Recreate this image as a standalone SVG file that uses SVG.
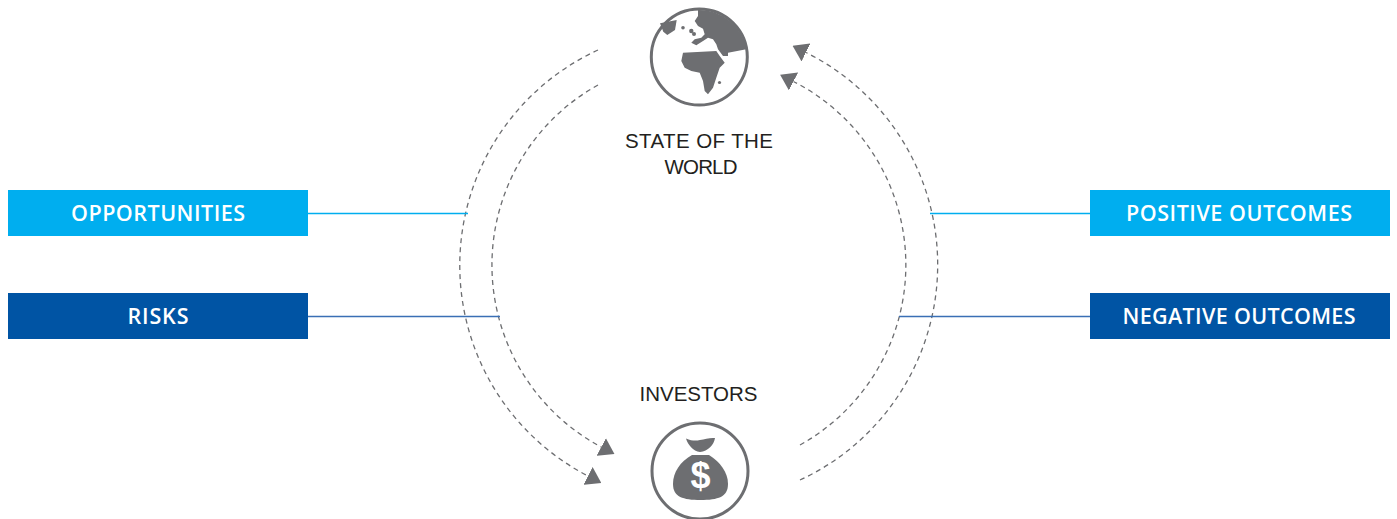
<svg xmlns="http://www.w3.org/2000/svg" width="1397" height="519" viewBox="0 0 1397 519">
<style>
.light{fill:#00aeef}
.dark{fill:#0054a4}
.btxt{font-family:"Open Sans","Liberation Sans",Arial,sans-serif;font-size:21.5px;font-weight:600;fill:#ffffff;text-anchor:middle}
.ktxt{font-family:"Liberation Sans",Arial,sans-serif;font-size:20.5px;fill:#231f20;text-anchor:middle}
.arc{fill:none;stroke:#6d6e71;stroke-width:1.3;stroke-dasharray:5 4}
.icon{fill:#6d6e71}
.ring{fill:none;stroke:#6d6e71;stroke-width:3}
</style>
<defs>
<marker id="ah" markerUnits="userSpaceOnUse" viewBox="0 0 15 20" markerWidth="15" markerHeight="20" refX="0" refY="10" orient="auto">
<path d="M0,0 L15,10 L0,20 Z" fill="#6d6e71"/>
</marker>
</defs>
<rect width="1397" height="519" fill="#ffffff"/>
<g id="connectors">
<path class="arc" d="M598,50 A237,237 0 0 0 588,476" marker-end="url(#ah)"/>
<path class="arc" d="M598,85 A206,206 0 0 0 601.2,447" marker-end="url(#ah)"/>
<path class="arc" d="M800,480 A237,237 0 0 0 806,52.5" marker-end="url(#ah)"/>
<path class="arc" d="M800,445 A206,206 0 0 0 793.5,81.5" marker-end="url(#ah)"/>
<line x1="308" y1="213.5" x2="468" y2="213.5" stroke="#00aeef" stroke-width="1.5"/>
<line x1="308" y1="316.5" x2="500" y2="316.5" stroke="#3a6fb5" stroke-width="1.5"/>
<line x1="930" y1="213.5" x2="1090" y2="213.5" stroke="#00aeef" stroke-width="1.5"/>
<line x1="899" y1="316.5" x2="1090" y2="316.5" stroke="#3a6fb5" stroke-width="1.5"/>
</g>
<g id="opportunities">
<rect class="light" x="8" y="190" width="300" height="46"/>
<text class="btxt" x="158" y="221" textLength="174" lengthAdjust="spacing">OPPORTUNITIES</text>
</g>
<g id="risks">
<rect class="dark" x="8" y="293" width="300" height="46"/>
<text class="btxt" x="158" y="324" textLength="61" lengthAdjust="spacing">RISKS</text>
</g>
<g id="positive-outcomes">
<rect class="light" x="1090" y="190" width="300" height="46"/>
<text class="btxt" x="1239" y="221" textLength="226" lengthAdjust="spacing">POSITIVE OUTCOMES</text>
</g>
<g id="negative-outcomes">
<rect class="dark" x="1090" y="293" width="300" height="46"/>
<text class="btxt" x="1239" y="324" textLength="233" lengthAdjust="spacing">NEGATIVE OUTCOMES</text>
</g>
<g id="state-of-the-world">
<circle class="ring" cx="699.3" cy="57" r="48"/>
<path class="icon" d="M698,10 L698,16 L694.7,21 L698,26 L703,28.7 L704.7,34.3 L701.3,37.7 L694.7,39.3 L691.3,42.7 L696.3,45.3 L703,41 L708,37.7 L713,39.3 L716.3,44.3 L718,49.3 L723,56 L728,56 L728,52.7 L746.3,49.3 A47.5,47.5 0 0 0 698,10 Z"/>
<path class="icon" d="M660,23.3 L676.7,20 L675,30 L667.3,35 L663.3,31.7 Z"/>
<circle class="icon" cx="683" cy="27.7" r="1.8"/>
<circle class="icon" cx="691.3" cy="31" r="2.2"/>
<circle class="icon" cx="694" cy="34" r="2"/>
<path class="icon" d="M683,52.7 L716.3,51 L719.7,56 L724.7,62.7 L719.7,67.7 L716.3,77.7 L713,87.7 L708,94.3 L704.7,91 L703,81 L699.7,72.7 L691.3,71 L684.7,67.7 L681.3,61 Z"/>
<circle class="icon" cx="719.5" cy="82.5" r="1.6"/>
<text class="ktxt" x="699" y="148" textLength="148" lengthAdjust="spacing">STATE OF THE</text>
<text class="ktxt" x="701" y="174" textLength="73" lengthAdjust="spacing">WORLD</text>
</g>
<g id="investors">
<text class="ktxt" x="698.5" y="401" textLength="118" lengthAdjust="spacing">INVESTORS</text>
<circle class="ring" cx="700" cy="471" r="48"/>
<path class="icon" d="M686,438.5 C692,441 696,441 700,440 C705,439 710,437.5 715,438 C714,445 708,451 700,452 C693,451 688,445 686,438.5 Z"/>
<path class="icon" d="M692,455 C680,462 673,472 673,484 C673,497 683,500 700.5,500 C718,500 728,497 728,484 C728,472 720,462 709,455 Z"/>
<text x="700.5" y="488" font-family="Liberation Sans,Arial,sans-serif" font-size="36" font-weight="bold" fill="#ffffff" text-anchor="middle">$</text>
</g>
</svg>
